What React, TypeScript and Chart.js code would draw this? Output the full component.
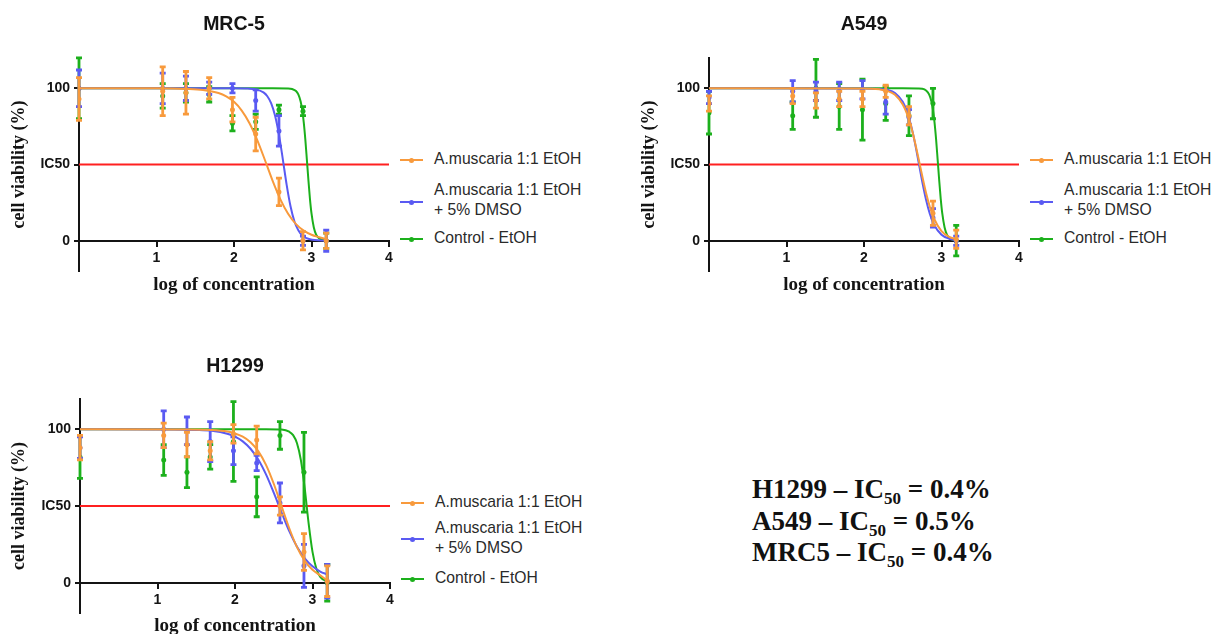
import React, { useEffect, useRef } from 'react';
import { Chart, registerables } from 'chart.js';

Chart.register(...registerables);

// ---------- shared ----------
const doseLog = [0, 1.08, 1.38, 1.68, 1.98, 2.28, 2.58, 2.89, 3.19];
const xTickValues = [0, 1, 2, 3, 4];
const xTickLabels = ['', '1', '2', '3', '4'];
const yTickValues = [0, 50, 100];
const yTickLabels = ['0', 'IC50', '100'];
const icLineX = [0, 4];
const icLineY = [50, 50];
const seriesNames = ['A.muscaria 1:1 EtOH', 'A.muscaria 1:1 EtOH|+ 5% DMSO', 'Control - EtOH'];

// ---------- MRC-5 ----------
const mrcOrangeMean = [93, 98, 97, 100, 86, 70, 32, 0, 0];
const mrcOrangeErr = [14, 16, 14, 7, 8, 11, 9, 6, 5];
const mrcBlueMean = [100, 100, 100, 100, 100, 92, 72, 0, 0];
const mrcBlueErr = [12, 10, 8, 4, 3, 7, 10, 3, 7];
const mrcGreenMean = [100, 95, 97, 96, 77, 78, 86, 85, 0];
const mrcGreenErr = [20, 8, 6, 5, 5, 5, 3, 3, 5];
const mrcOrangeFitX = [0, 1.0, 1.4, 1.6, 1.8, 1.9, 2.0, 2.1, 2.2, 2.3, 2.4, 2.5, 2.6, 2.7, 2.8, 2.9, 3.0, 3.1, 3.19];
const mrcOrangeFitY = [100, 100, 99.6, 98.9, 96.9, 94.7, 91.1, 85.4, 77.1, 66.0, 52.8, 39.1, 27.0, 17.5, 10.9, 6.6, 3.9, 2.3, 1.0];
const mrcBlueFitX = [0, 2.0, 2.18, 2.28, 2.38, 2.43, 2.48, 2.53, 2.58, 2.63, 2.68, 2.73, 2.78, 2.83, 2.88, 2.98, 3.19];
const mrcBlueFitY = [100, 100, 99.8, 99.3, 97.3, 94.8, 90.1, 82.0, 69.6, 53.4, 36.5, 22.4, 12.6, 6.8, 3.5, 0.9, 0.1];
const mrcGreenFitX = [0, 2.5, 2.7, 2.75, 2.8, 2.83, 2.86, 2.88, 2.9, 2.92, 2.94, 2.96, 2.98, 3.0, 3.03, 3.06, 3.1, 3.19];
const mrcGreenFitY = [100, 100, 99.9, 99.5, 98.2, 96.0, 91.3, 85.8, 77.6, 66.6, 53.4, 39.8, 27.5, 17.9, 8.7, 4.0, 1.4, 0.1];

// ---------- A549 ----------
const a549OrangeMean = [90, 95, 92, 93, 93, 98, 82, 18, 1];
const a549OrangeErr = [5, 5, 5, 5, 5, 4, 6, 8, 6];
const a549BlueMean = [94, 98, 98, 98, 99, 91, 81, 15, 0];
const a549BlueErr = [4, 7, 6, 6, 6, 8, 5, 6, 3];
const a549GreenMean = [84, 82, 100, 88, 86, 90, 82, 90, 0];
const a549GreenErr = [14, 9, 19, 15, 20, 11, 13, 10, 10];
const a549OrangeFitX = [0, 2.0, 2.2, 2.3, 2.4, 2.5, 2.55, 2.6, 2.65, 2.7, 2.75, 2.8, 2.85, 2.9, 3.0, 3.1, 3.19];
const a549OrangeFitY = [100, 99.9, 99.3, 98.3, 95.7, 89.3, 83.8, 76.2, 66.3, 54.8, 42.8, 31.5, 22.1, 14.9, 6.3, 2.5, 1.0];
const a549BlueFitX = [0, 2.0, 2.2, 2.3, 2.4, 2.5, 2.55, 2.6, 2.65, 2.7, 2.75, 2.8, 2.85, 2.9, 3.0, 3.1, 3.19];
const a549BlueFitY = [100, 99.9, 99.6, 98.9, 96.9, 91.1, 85.4, 77.1, 66.0, 52.8, 39.1, 27.0, 17.5, 10.9, 3.9, 1.3, 0.5];
const a549GreenFitX = [0, 2.5, 2.7, 2.75, 2.8, 2.84, 2.87, 2.89, 2.91, 2.93, 2.95, 2.97, 2.99, 3.01, 3.04, 3.07, 3.11, 3.19];
const a549GreenFitY = [100, 100, 99.9, 99.7, 98.6, 96.0, 91.3, 85.8, 77.6, 66.6, 53.4, 39.8, 27.5, 17.9, 8.7, 4.0, 1.4, 0.2];

// ---------- H1299 ----------
const h1299OrangeMean = [88, 96, 90, 86, 97, 93, 50, 20, 1];
const h1299OrangeErr = [8, 8, 8, 6, 6, 9, 6, 12, 10];
const h1299BlueMean = [88, 100, 99, 92, 86, 78, 52, 11, 1];
const h1299BlueErr = [7, 12, 9, 13, 9, 5, 13, 14, 11];
const h1299GreenMean = [82, 80, 72, 82, 92, 56, 96, 72, 0];
const h1299GreenErr = [14, 10, 10, 8, 26, 13, 9, 26, 12];
const h1299OrangeFitX = [0, 1.4, 1.7, 1.9, 2.0, 2.1, 2.2, 2.3, 2.4, 2.5, 2.6, 2.7, 2.8, 2.9, 3.0, 3.1, 3.19];
const h1299OrangeFitY = [100, 99.9, 99.5, 98.5, 97.3, 95.2, 91.6, 85.8, 76.8, 64.5, 50, 35.5, 23.2, 14.2, 8.4, 4.8, 1.5];
const h1299BlueFitX = [0, 1.2, 1.5, 1.7, 1.9, 2.0, 2.1, 2.2, 2.3, 2.4, 2.5, 2.6, 2.7, 2.8, 2.9, 3.0, 3.1, 3.19];
const h1299BlueFitY = [100, 99.9, 99.6, 99.0, 97.1, 95.2, 92.1, 87.3, 80.3, 70.6, 58.7, 45.8, 33.6, 23.5, 15.9, 10.7, 7.3, 5.4];
const h1299GreenFitX = [0, 2.4, 2.6, 2.7, 2.75, 2.8, 2.85, 2.9, 2.95, 3.0, 3.05, 3.1, 3.19];
const h1299GreenFitY = [100, 100, 99.8, 98.4, 96.2, 90.9, 79.9, 61.3, 38.7, 20.1, 9.1, 3.8, 0.8];

// ---------- styles ----------
const ORANGE = '#F89A3C';
const BLUE = '#5A5AF2';
const GREEN = '#1CB01C';
const RED = '#FF2020';
const INK = '#141414';
const SANS = '"Liberation Sans", Arial, Helvetica, sans-serif';
const SERIF = '"Liberation Serif", "Times New Roman", Times, serif';

type Series = { mean: number[]; err: number[]; fitX: number[]; fitY: number[]; color: string };

const errorBarPlugin = {
  id: 'errorBars',
  afterDatasetDraw(chart: any, args: any) {
    const ds = chart.data.datasets[args.index];
    if (!ds.errorBars) return;
    const ctx = chart.ctx;
    const yScale = chart.scales.y;
    const pts = args.meta.data;
    ctx.save();
    ctx.strokeStyle = ds.errorColor;
    ctx.fillStyle = ds.errorColor;
    ctx.lineWidth = 2.8;
    ctx.lineCap = 'butt';
    pts.forEach((el: any, i: number) => {
      const m = ds.data[i].y;
      const e = ds.errorBars[i];
      const yTop = yScale.getPixelForValue(m + e);
      const yBot = yScale.getPixelForValue(m - e);
      const x = el.x;
      ctx.beginPath();
      ctx.moveTo(x, yTop);
      ctx.lineTo(x, yBot);
      ctx.moveTo(x - 3, yTop);
      ctx.lineTo(x + 3, yTop);
      ctx.moveTo(x - 3, yBot);
      ctx.lineTo(x + 3, yBot);
      ctx.stroke();
    });
    ctx.restore();
  },
};

type PanelGeom = {
  width: number;
  height: number;
  areaLeft: number;
  areaRight: number;
  titleTop: number;
  titleBottom: number;
  padBottom: number;
  xTitlePad: number;
};

function buildConfig(title: string, series: Series[], g: PanelGeom): any {
  const datasets: any[] = [];
  datasets.push({
    label: 'IC50',
    data: icLineX.map((x, i) => ({ x, y: icLineY[i] })),
    showLine: true,
    borderColor: RED,
    borderWidth: 2,
    pointRadius: 0,
    order: 30,
  });
  series.forEach((s, k) => {
    const base = 10 + k * 4;
    datasets.push({
      label: 'fit' + k,
      data: s.fitX.map((x, i) => ({ x, y: s.fitY[i] })),
      showLine: true,
      borderColor: s.color,
      borderWidth: 2,
      pointRadius: 0,
      cubicInterpolationMode: 'monotone',
      order: base + 1,
    });
    datasets.push({
      label: 'data' + k,
      data: doseLog.map((x, i) => ({ x, y: s.mean[i] })),
      showLine: false,
      pointRadius: 2.5,
      pointBackgroundColor: s.color,
      pointBorderColor: s.color,
      pointBorderWidth: 0,
      errorBars: s.err,
      errorColor: s.color,
      order: base,
    });
  });

  const tickFont = { family: SANS, size: 14, weight: 'bold' as const };
  const titleFont = { family: SERIF, size: 19, weight: 'bold' as const };

  return {
    type: 'scatter',
    data: { datasets },
    plugins: [errorBarPlugin],
    options: {
      animation: false,
      responsive: false,
      devicePixelRatio: 1,
      events: [],
      layout: { padding: { left: 0, right: g.width - g.areaRight, top: 0, bottom: g.padBottom } },
      plugins: {
        legend: { display: false },
        tooltip: { enabled: false },
        title: {
          display: true,
          text: title,
          fullSize: false,
          color: INK,
          font: { family: SANS, size: 19.5, weight: 'bold' },
          padding: { top: g.titleTop, bottom: g.titleBottom },
        },
      },
      scales: {
        x: {
          type: 'linear',
          min: 0,
          max: 4,
          position: { y: 0 },
          afterBuildTicks: (s: any) => {
            s.ticks = xTickValues.map((v) => ({ value: v }));
          },
          ticks: {
            callback: (_v: any, i: number) => xTickLabels[i],
            color: INK,
            font: tickFont,
            padding: 4,
            maxRotation: 0,
            autoSkip: false,
          },
          grid: { display: true, drawOnChartArea: false, drawTicks: true, tickLength: 5, color: INK, lineWidth: 2 },
          border: { display: true, color: INK, width: 2 },
          title: {
            display: true,
            text: 'log of concentration',
            color: INK,
            font: titleFont,
            padding: { top: g.xTitlePad, bottom: 0 },
          },
        },
        y: {
          type: 'linear',
          min: -20,
          max: 120,
          position: 'left',
          afterBuildTicks: (s: any) => {
            s.ticks = yTickValues.map((v) => ({ value: v }));
          },
          afterFit: (s: any) => {
            s.width = g.areaLeft;
          },
          ticks: {
            callback: (_v: any, i: number) => yTickLabels[i],
            color: INK,
            font: tickFont,
            padding: 4,
            autoSkip: false,
          },
          grid: { display: true, drawOnChartArea: false, drawTicks: true, tickLength: 5, color: INK, lineWidth: 2 },
          border: { display: true, color: INK, width: 2 },
          title: {
            display: true,
            text: 'cell viability (%)',
            color: INK,
            font: { family: SERIF, size: 18, weight: 'bold' },
            padding: { top: 9, bottom: 0 },
          },
        },
      },
    },
  };
}

function Panel(props: { left: number; top: number; title: string; series: Series[]; geom: PanelGeom }) {
  const ref = useRef<HTMLCanvasElement | null>(null);
  useEffect(() => {
    if (!ref.current) return;
    const chart = new Chart(ref.current, buildConfig(props.title, props.series, props.geom));
    return () => chart.destroy();
  }, []);
  return (
    <canvas
      ref={ref}
      width={props.geom.width}
      height={props.geom.height}
      style={{ position: 'absolute', left: props.left, top: props.top, width: props.geom.width, height: props.geom.height, display: 'block' }}
    />
  );
}

type LegendItem = { color: string; markerY: number; lineYs: number[]; text: string };

function Legend(props: { markerLeft: number; textLeft: number; items: LegendItem[] }) {
  return (
    <>
      {props.items.map((it, k) => (
        <React.Fragment key={k}>
          <div style={{ position: 'absolute', left: props.markerLeft, top: it.markerY - 1, width: 23, height: 2, background: it.color }} />
          <div style={{ position: 'absolute', left: props.markerLeft + 9, top: it.markerY - 2.5, width: 5, height: 5, borderRadius: 3, background: it.color }} />
          {it.text.split('|').map((line, j) => (
            <div
              key={j}
              style={{
                position: 'absolute',
                left: props.textLeft,
                top: it.lineYs[j] - 10,
                height: 20,
                lineHeight: '20px',
                font: `15.7px ${SANS}`,
                color: '#2a2a2a',
                whiteSpace: 'nowrap',
              }}
            >
              {line}
            </div>
          ))}
        </React.Fragment>
      ))}
    </>
  );
}

const mrcSeries: Series[] = [
  { mean: mrcOrangeMean, err: mrcOrangeErr, fitX: mrcOrangeFitX, fitY: mrcOrangeFitY, color: ORANGE },
  { mean: mrcBlueMean, err: mrcBlueErr, fitX: mrcBlueFitX, fitY: mrcBlueFitY, color: BLUE },
  { mean: mrcGreenMean, err: mrcGreenErr, fitX: mrcGreenFitX, fitY: mrcGreenFitY, color: GREEN },
];
const a549Series: Series[] = [
  { mean: a549OrangeMean, err: a549OrangeErr, fitX: a549OrangeFitX, fitY: a549OrangeFitY, color: ORANGE },
  { mean: a549BlueMean, err: a549BlueErr, fitX: a549BlueFitX, fitY: a549BlueFitY, color: BLUE },
  { mean: a549GreenMean, err: a549GreenErr, fitX: a549GreenFitX, fitY: a549GreenFitY, color: GREEN },
];
const h1299Series: Series[] = [
  { mean: h1299OrangeMean, err: h1299OrangeErr, fitX: h1299OrangeFitX, fitY: h1299OrangeFitY, color: ORANGE },
  { mean: h1299BlueMean, err: h1299BlueErr, fitX: h1299BlueFitX, fitY: h1299BlueFitY, color: BLUE },
  { mean: h1299GreenMean, err: h1299GreenErr, fitX: h1299GreenFitX, fitY: h1299GreenFitY, color: GREEN },
];

const topGeom: PanelGeom = {
  width: 400,
  height: 300,
  areaLeft: 79,
  areaRight: 389,
  titleTop: 13.3,
  titleBottom: 21.1,
  padBottom: 28.8,
  xTitlePad: 3,
};
const bottomGeom: PanelGeom = {
  width: 400,
  height: 293,
  areaLeft: 80,
  areaRight: 390,
  titleTop: 13.6,
  titleBottom: 20.6,
  padBottom: 20.6,
  xTitlePad: 2,
};

const colorsInLegend = [ORANGE, BLUE, GREEN];

function topLegendItems(): LegendItem[] {
  return [
    { color: colorsInLegend[0], markerY: 160, lineYs: [160], text: seriesNames[0] },
    { color: colorsInLegend[1], markerY: 202, lineYs: [191, 211], text: seriesNames[1] },
    { color: colorsInLegend[2], markerY: 239, lineYs: [239], text: seriesNames[2] },
  ];
}
function bottomLegendItems(): LegendItem[] {
  return [
    { color: colorsInLegend[0], markerY: 503, lineYs: [503], text: seriesNames[0] },
    { color: colorsInLegend[1], markerY: 539, lineYs: [529, 549], text: seriesNames[1] },
    { color: colorsInLegend[2], markerY: 579, lineYs: [579], text: seriesNames[2] },
  ];
}

const icSummary = [
  { cell: 'H1299', value: '0.4%' },
  { cell: 'A549', value: '0.5%' },
  { cell: 'MRC5', value: '0.4%' },
];

export default function App() {
  return (
    <div style={{ position: 'absolute', left: 0, top: 0, width: 1227, height: 634, overflow: 'hidden', background: '#ffffff' }}>
      <Panel left={0} top={0} title="MRC-5" series={mrcSeries} geom={topGeom} />
      <Panel left={630} top={0} title="A549" series={a549Series} geom={topGeom} />
      <Panel left={0} top={341} title="H1299" series={h1299Series} geom={bottomGeom} />
      <Legend markerLeft={400} textLeft={434} items={topLegendItems()} />
      <Legend markerLeft={1030} textLeft={1064} items={topLegendItems()} />
      <Legend markerLeft={401} textLeft={435} items={bottomLegendItems()} />
      <div
        style={{
          position: 'absolute',
          left: 752,
          top: 474,
          font: `bold 27px ${SERIF}`,
          lineHeight: '31.5px',
          color: '#111',
          whiteSpace: 'nowrap',
        }}
      >
        {icSummary.map((r, i) => (
          <div key={i} style={{ height: 31.5 }}>
            {r.cell} – IC
            <span style={{ fontSize: 17, position: 'relative', top: 6 }}>50</span> = {r.value}
          </div>
        ))}
      </div>
    </div>
  );
}
